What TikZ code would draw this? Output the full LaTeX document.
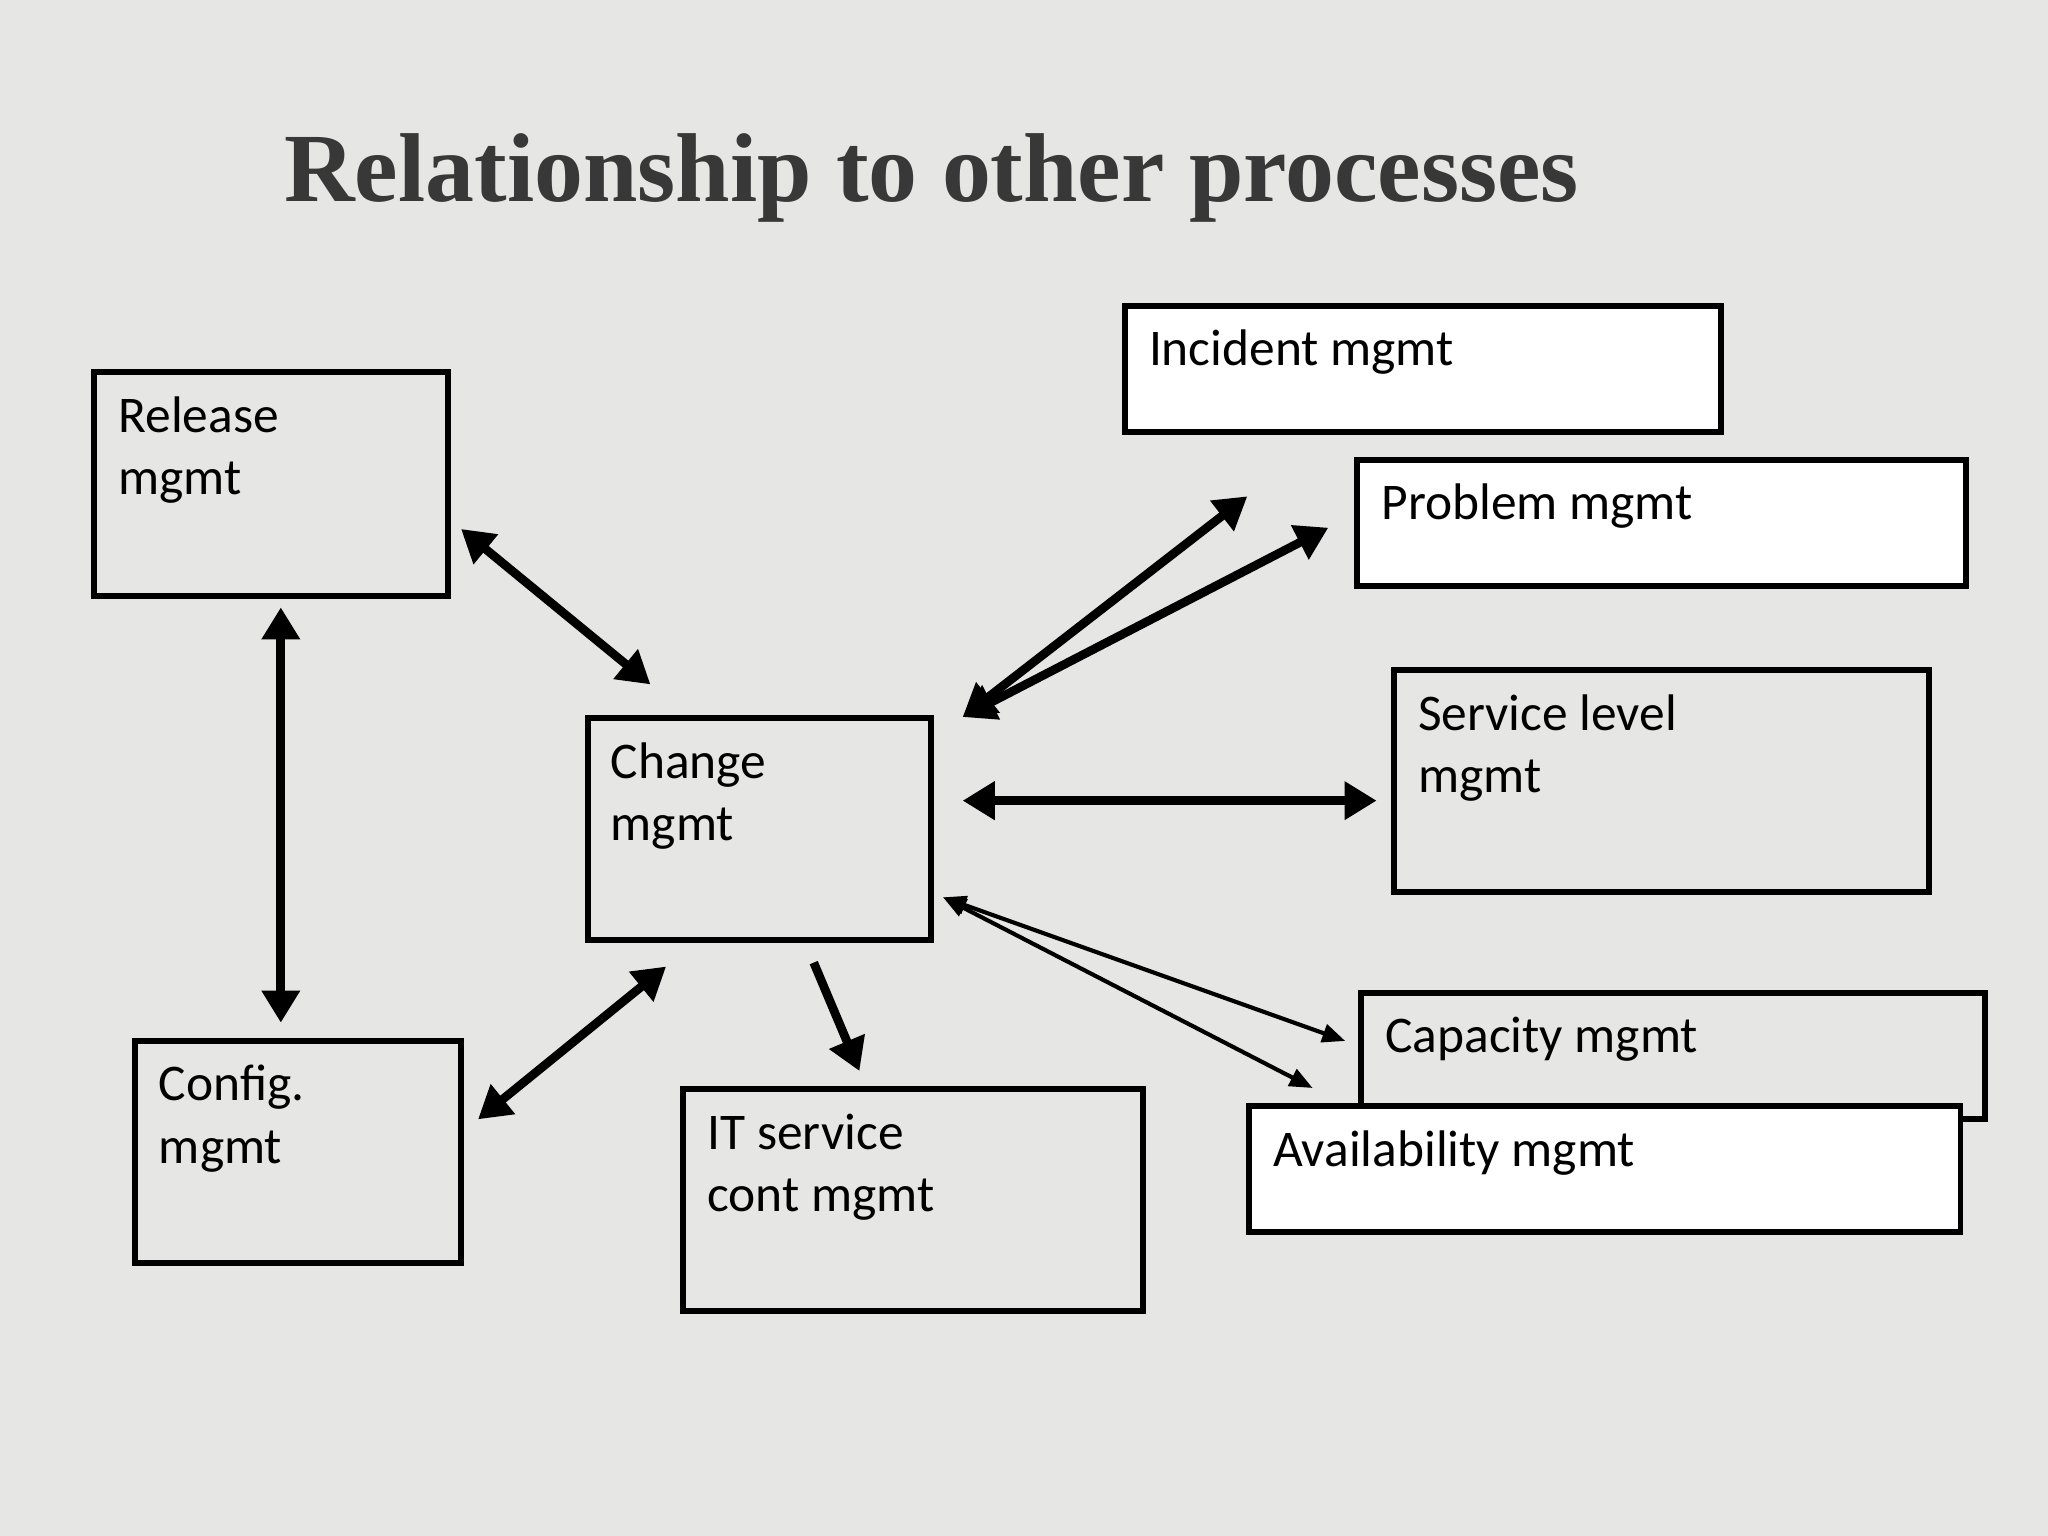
\documentclass[tikz,border=0pt]{standalone}
\usepackage{fontspec}
\setmainfont{Carlito}
\newfontfamily\titlefont{Liberation Serif}
\usetikzlibrary{arrows.meta}
\definecolor{bg}{HTML}{E6E6E4}
\begin{document}
\begin{tikzpicture}[x=0.01cm,y=-0.01cm,
  box/.style={draw=black,line width=1.3pt},
  lbl/.style={anchor=north west,align=left,inner sep=0pt,font=\fontsize{11.2}{13.6}\selectfont,text depth=0pt},
  big/.style={line width=1.9pt,{Triangle[length=7pt,width=8pt]}-{Triangle[length=7pt,width=8pt]}},
  thin/.style={line width=0.9pt,{Triangle[length=5pt,width=4pt]}-{Triangle[length=5pt,width=4pt]}}]
\fill[bg] (0,0) rectangle (1568,1176);
\useasboundingbox (0,0) rectangle (1568,1176);
\node[anchor=west,text=black!78,font=\titlefont\bfseries\fontsize{21.3}{24}\selectfont,inner sep=0pt] (title) at (217,136) {Relationship to other processes};
% boxes
\draw[box,fill=bg] (72,285) rectangle (343,456);
\draw[box,fill=bg] (103,797) rectangle (353,967);
\draw[box,fill=bg] (450,550) rectangle (713,720);
\draw[box,fill=bg] (523,834) rectangle (875,1004);
\draw[box,fill=white] (861,234) rectangle (1318,331);
\draw[box,fill=white] (1039,352) rectangle (1505,449);
\draw[box,fill=bg] (1067,513) rectangle (1477,683);
\draw[box,fill=bg] (1042,760) rectangle (1520,857);
\draw[box,fill=white] (956,847) rectangle (1501,943);
\node[lbl] (release) at (90,303) {Release\\mgmt};
\node[lbl] (config) at (121,815) {Config.\\mgmt};
\node[lbl] (change) at (467,568) {Change\\mgmt};
\node[lbl] (itsc) at (541,852) {IT service\\cont mgmt};
\node[lbl] (incident) at (879,252) {Incident mgmt};
\node[lbl] (problem) at (1057,370) {Problem mgmt};
\node[lbl] (sl) at (1085,531) {Service level\\mgmt};
\node[lbl] (capacity) at (1060,778) {Capacity mgmt};
\node[lbl] (avail) at (974,865) {Availability mgmt};
% arrow endpoints
\coordinate (r1) at (353,405); \coordinate (c1) at (498,524);
\coordinate (r2) at (215,465); \coordinate (g2) at (215,783);
\coordinate (g3) at (366,857); \coordinate (c3) at (510,740);
\coordinate (c4) at (623,737); \coordinate (i4) at (658,820);
\coordinate (c5) at (737,549); \coordinate (in5) at (955,380); \coordinate (p5) at (1017,404);
\coordinate (c6) at (737,613); \coordinate (s6) at (1054,613);
\coordinate (c7) at (722,687); \coordinate (ca7) at (1030,797); \coordinate (a7) at (1005,833);
\draw[big] (r1) -- (c1);
\draw[big] (r2) -- (g2);
\draw[big] (g3) -- (c3);
\draw[line width=1.9pt,-{Triangle[length=7pt,width=8pt]}] (c4) -- (i4);
\draw[big] (c5) -- (in5);
\draw[big] (c5) -- (p5);
\draw[big] (c6) -- (s6);
\draw[thin] (c7) -- (ca7);
\draw[thin] (c7) -- (a7);
\end{tikzpicture}
\end{document}
